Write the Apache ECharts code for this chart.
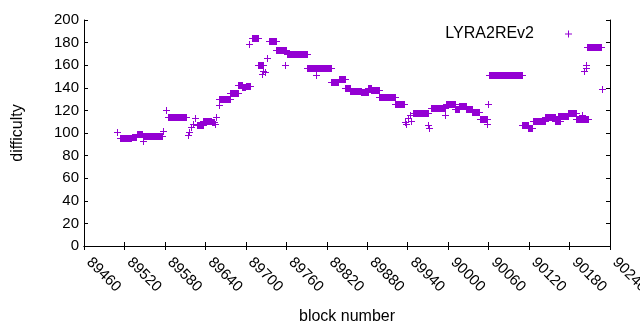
<!DOCTYPE html>
<html>
<head>
<meta charset="utf-8">
<title>LYRA2REv2 difficulty</title>
<script src="https://cdn.jsdelivr.net/npm/echarts@6/dist/echarts.min.js"></script>
<style>
  html, body { margin: 0; padding: 0; background: #fff; }
  #chart { width: 640px; height: 330px; }
</style>
</head>
<body>
<div id="chart"></div>
<script>
// Difficulty per block. Consecutive blocks that sit at
// the same difficulty are kept as one run: first block, last block, value.
var runFirst = [
  89509, 89513, 89531, 89538, 89548, 89548, 89577, 89581, 89584, 89614,
  89616, 89618, 89621, 89625, 89627, 89637, 89650, 89654, 89656, 89660,
  89660, 89677, 89689, 89695, 89700, 89705, 89709, 89718, 89724, 89726,
  89729, 89732, 89735, 89745, 89758, 89761, 89790, 89804, 89827, 89838,
  89847, 89855, 89871, 89881, 89886, 89898, 89921, 89936, 89938, 89940,
  89943, 89945, 89948, 89970, 89972, 89975, 89996, 89997, 90010, 90016,
  90027, 90036, 90047, 90058, 90059, 90061, 90110, 90119, 90126, 90143,
  90158, 90163, 90178, 90190, 90198, 90202, 90204, 90205, 90206, 90228
];
var runLast = [
  89509, 89530, 89537, 89546, 89548, 89576, 89577, 89581, 89611, 89614,
  89616, 89618, 89621, 89625, 89636, 89649, 89653, 89654, 89656, 89660,
  89676, 89688, 89694, 89699, 89706, 89705, 89718, 89725, 89724, 89726,
  89729, 89732, 89745, 89760, 89758, 89790, 89827, 89804, 89836, 89847,
  89854, 89871, 89881, 89886, 89898, 89921, 89935, 89936, 89938, 89940,
  89943, 89945, 89970, 89970, 89972, 89995, 89996, 90010, 90016, 90027,
  90035, 90046, 90058, 90058, 90059, 90110, 90118, 90124, 90143, 90158,
  90166, 90178, 90190, 90207, 90198, 90202, 90204, 90205, 90226, 90228
];
var runDifficulty = [
  101, 96, 96.5, 99, 93, 97.5, 102, 120, 114.5, 98,
  101, 105, 108, 113, 107.5, 110.5, 110, 108, 114, 124.5,
  130, 135, 142.5, 140.5, 142, 178.5, 184.5, 160, 152, 155,
  154, 166, 181, 173.5, 160.5, 169.5, 157.5, 151, 145, 147.5,
  139.5, 137.5, 136, 140, 138, 132, 126, 110, 108, 113,
  116, 111, 118, 107, 104, 122.5, 115.5, 126, 121.5, 124,
  121.5, 118.5, 112.5, 108, 126, 151.5, 107.5, 104, 110.5, 114,
  110.5, 115, 117.5, 112, 116, 155, 160, 157.5, 176, 138.5
];

var seriesName = "LYRA2REv2";
var xMin = 89460, xMax = 90240, xStep = 60;
var yMin = 0, yMax = 200, yStep = 20;

var purple = "#9400d3";
var font = "'Liberation Sans', Arial, sans-serif";

var runs = [];
for (var i = 0; i < runFirst.length; i++) {
  runs.push([runFirst[i], runLast[i], runDifficulty[i]]);
}

// one "+" per block; a run of them melts into a bar with arms on each end
function renderRun(params, api) {
  var a = api.coord([api.value(0), api.value(2)]);
  var b = api.coord([api.value(1), api.value(2)]);
  var x0 = Math.round(a[0]), x1 = Math.round(b[0]), y = Math.round(a[1]);
  return {
    type: "group",
    children: [
      { type: "rect", shape: { x: x0, y: y - 3, width: x1 - x0 + 1, height: 7 }, style: { fill: purple } },
      { type: "rect", shape: { x: x0 - 3, y: y, width: x1 - x0 + 7, height: 1 }, style: { fill: purple } }
    ]
  };
}

var myChart = echarts.init(document.getElementById("chart"), null, { renderer: "canvas" });

var tickStyle = { show: true, inside: true, length: 4, lineStyle: { color: "#000", width: 1 } };
var lineStyle = { show: true, lineStyle: { color: "#000", width: 1 } };

var option = {
  animation: false,
  backgroundColor: "#fff",
  textStyle: { fontFamily: font },
  grid: { left: 84, right: 30, top: 20, bottom: 84, containLabel: false, outerBoundsMode: "none" },
  legend: {
    data: [{ name: seriesName, icon: "path://M3,0h1v3h3v1h-3v3h-1v-3h-3v-1h3z" }],
    right: 63,
    top: 21,
    align: "right",
    itemWidth: 7,
    itemHeight: 7,
    itemStyle: { color: purple },
    textStyle: { fontSize: 16, color: "#000", fontFamily: font, padding: [0, 26, 0, 0] }
  },
  xAxis: [{
    type: "value",
    min: xMin, max: xMax, interval: xStep,
    name: "block number",
    nameLocation: "middle",
    nameGap: 63,
    nameTextStyle: { fontSize: 16, color: "#000", fontFamily: font },
    axisLine: lineStyle,
    axisTick: tickStyle,
    splitLine: { show: false },
    axisLabel: {
      rotate: -45, margin: 9, padding: [0, 0, 0, 7], fontSize: 15, color: "#000", fontFamily: font,
      formatter: function (v) { return String(v); }
    }
  }, {
    type: "value",
    position: "top",
    min: xMin, max: xMax, interval: xStep,
    axisLine: lineStyle,
    axisTick: tickStyle,
    axisLabel: { show: false },
    splitLine: { show: false }
  }],
  yAxis: [{
    type: "value",
    min: yMin, max: yMax, interval: yStep,
    name: "difficulty",
    nameLocation: "middle",
    nameGap: 58,
    nameTextStyle: { fontSize: 16, color: "#000", fontFamily: font },
    axisLine: lineStyle,
    axisTick: tickStyle,
    splitLine: { show: false },
    axisLabel: { margin: 5, fontSize: 15, color: "#000", fontFamily: font }
  }, {
    type: "value",
    position: "right",
    min: yMin, max: yMax, interval: yStep,
    axisLine: lineStyle,
    axisTick: tickStyle,
    axisLabel: { show: false },
    splitLine: { show: false }
  }],
  series: [{
    name: seriesName,
    type: "custom",
    xAxisIndex: 0,
    yAxisIndex: 0,
    itemStyle: { color: purple },
    renderItem: renderRun,
    encode: { x: [0, 1], y: 2 },
    data: runs
  }]
};

myChart.setOption(option);
</script>
</body>
</html>
